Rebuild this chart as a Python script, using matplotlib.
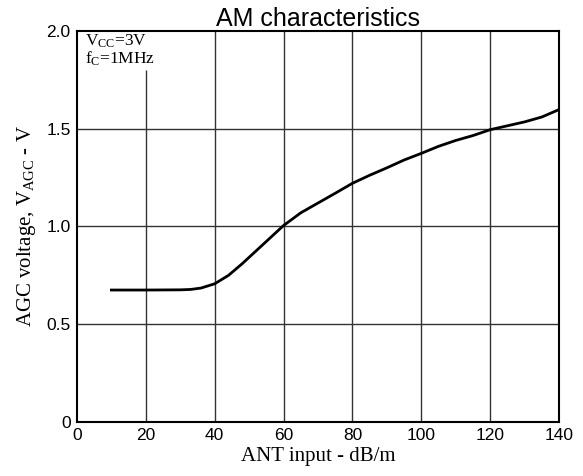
import numpy as np
import matplotlib
matplotlib.use('Agg')
import matplotlib.pyplot as plt

# AGC voltage vs antenna input
ant_input = [10, 20, 30, 33, 36, 40, 44, 48, 52, 56, 60, 65, 70, 75, 80,
             85, 90, 95, 100, 105, 110, 115, 120, 125, 130, 135, 140]
v_agc = [0.675, 0.675, 0.676, 0.678, 0.685, 0.707, 0.75, 0.81, 0.875, 0.94,
         1.005, 1.07, 1.12, 1.17, 1.221, 1.262, 1.30, 1.34, 1.374, 1.41,
         1.44, 1.465, 1.495, 1.515, 1.535, 1.56, 1.598]

x_ticks = [0, 20, 40, 60, 80, 100, 120, 140]
x_tick_labels = ['0', '20', '40', '60', '80', '100', '120', '140']
y_ticks = [0, 0.5, 1.0, 1.5, 2.0]
y_tick_labels = ['0', '0.5', '1.0', '1.5', '2.0']

plt.rcParams['mathtext.fontset'] = 'custom'
plt.rcParams['mathtext.rm'] = 'Liberation Serif'
plt.rcParams['mathtext.it'] = 'Liberation Serif:italic'

fig = plt.figure(figsize=(5.83, 4.76), dpi=100)
ax = fig.add_axes([0.132, 0.1134, 0.827, 0.8216])

ax.set_xlim(0, 140)
ax.set_ylim(0, 2.0)

# grid (the x=20 line stops below the condition text)
for xv in x_ticks[1:-1]:
    top = 1.80 if xv == 20 else 2.0
    ax.vlines(xv, 0, top, color='#333333', lw=1.0, zorder=1)
for yv in y_ticks[1:-1]:
    ax.axhline(yv, color='#333333', lw=1.0, zorder=1)

ax.plot(ant_input, v_agc, color='black', lw=2.0, zorder=3)

ax.set_xticks(x_ticks)
ax.set_xticklabels(x_tick_labels, fontfamily='Liberation Sans', fontsize=12.5)
ax.set_yticks(y_ticks)
ax.set_yticklabels(y_tick_labels, fontfamily='Liberation Sans', fontsize=12.5)
ax.tick_params(axis='x', length=0, pad=4)
ax.tick_params(axis='y', length=0, pad=4.5)

for s in ax.spines.values():
    s.set_linewidth(1.5)
    s.set_color('black')

ax.set_title('AM characteristics', fontfamily='Liberation Sans', fontsize=18, pad=0.5)
ax.set_xlabel('ANT input - dB/m', fontfamily='Liberation Serif', fontsize=15, labelpad=3)
ax.set_ylabel(r'AGC voltage, V$_{\mathrm{AGC}}$ - V', fontfamily='Liberation Serif',
              fontsize=15, labelpad=6)

ax.text(2.3, 1.99, r'V$_{\mathrm{CC}}$=3V', fontfamily='Liberation Serif', fontsize=12.5,
        va='top', ha='left')
ax.text(2.3, 1.905, r'f$_{\mathrm{C}}$=1MHz', fontfamily='Liberation Serif', fontsize=12.5,
        va='top', ha='left')

fig.savefig('out.png', dpi=100)
